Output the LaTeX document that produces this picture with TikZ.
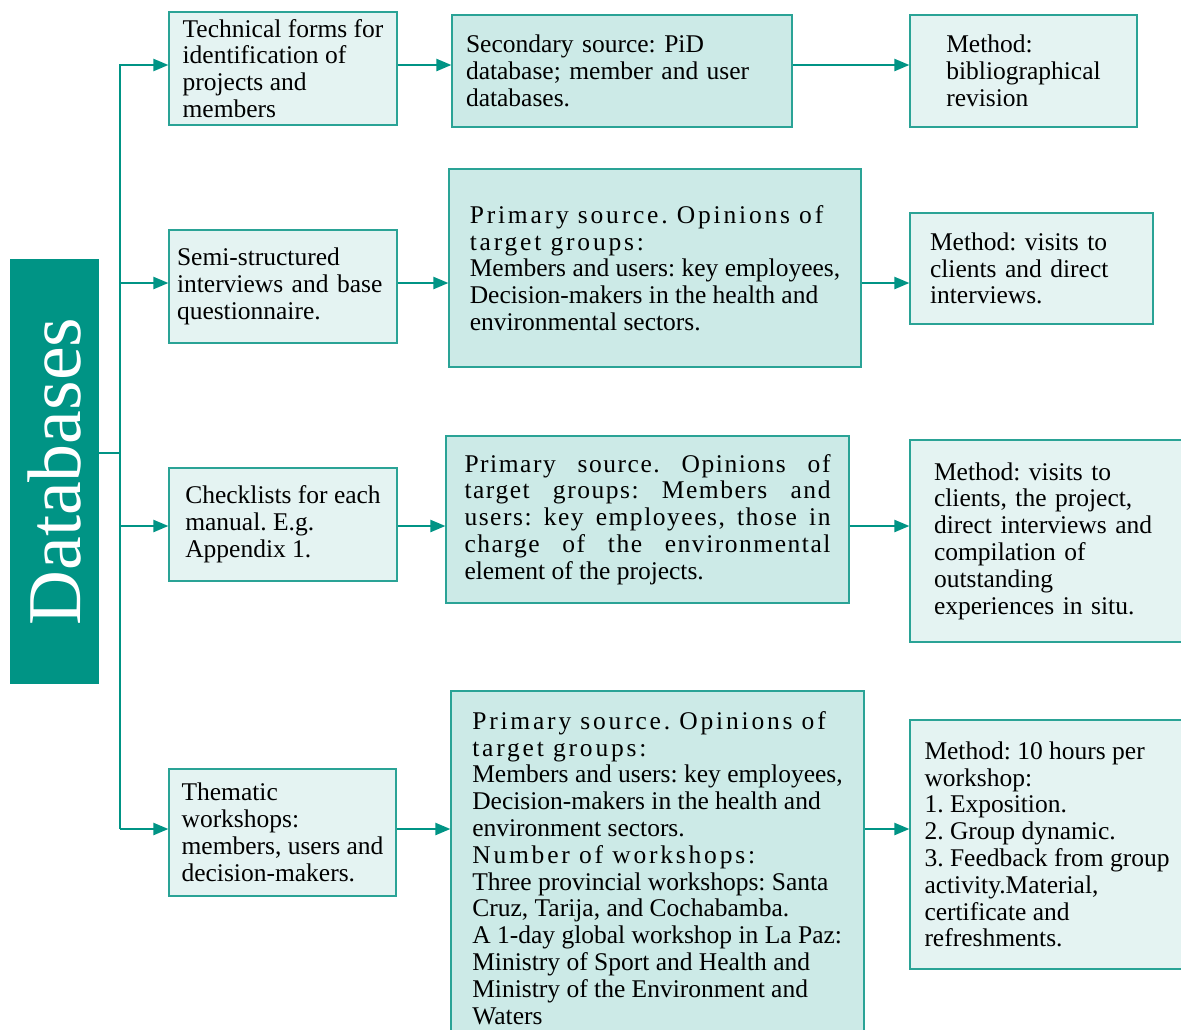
\documentclass[tikz,border=0pt]{standalone}
\usepackage{fontspec}
\setmainfont{Liberation Serif}
\usepackage{tikz}
\usetikzlibrary{arrows.meta, positioning}
\definecolor{tealdark}{RGB}{0,148,133}
\definecolor{tealedge}{RGB}{42,163,150}
\definecolor{palefill}{RGB}{228,243,242}
\definecolor{midfill}{RGB}{204,234,231}
\newcommand{\spaced}[1]{{\addfontfeature{LetterSpace=11}#1}}
\newcommand{\fullline}[1]{\makebox[366pt][s]{\addfontfeature{LetterSpace=6}#1}}
\frenchspacing

\begin{document}
\begin{tikzpicture}[
    x=1pt, y=-1pt,
    box/.style={draw=tealedge, line width=1.2pt, rectangle, align=left, inner sep=4pt, font=\fontsize{25.5}{26.8}\selectfont},
    tool/.style={box, fill=palefill},
    src/.style={box, fill=midfill},
    meth/.style={box, fill=palefill},
    arr/.style={-{Triangle[length=15pt, width=12pt]}, line width=2.2pt, draw=tealdark},
    trunk/.style={line width=2.2pt, draw=tealdark}
]
\useasboundingbox (0,0) rectangle (1181,1029);

\node[rotate=90, fill=tealdark, text=white, minimum width=425pt, minimum height=89pt, font=\fontsize{76}{78}\selectfont] (db) at (54.5,471.5) {Databases};

% first column: instruments
\node[tool, minimum width=228pt, minimum height=113pt] (tool1) at (283,68.5)
    {Technical forms for\\ identification of\\ projects and\\ members};
\node[tool, minimum width=228pt, minimum height=113pt, inner xsep=8pt, text width=212pt] (tool2) at (283,286.5)
    {Semi-structured\\ interviews and base\\ questionnaire.};
\node[tool, minimum width=228pt, minimum height=113pt] (tool3) at (283,524.5)
    {Checklists for each\\ manual. E.g.\\ Appendix 1.};
\node[tool, minimum width=227pt, minimum height=127pt] (tool4) at (282.5,832.5)
    {Thematic\\ workshops:\\ members, users and\\ decision-makers.};

% second column: sources
\node[src, minimum width=340pt, minimum height=112pt, inner xsep=14pt, text width=312pt] (src1) at (622,71)
    {Secondary source: PiD\\ database; member and user\\ databases.};
\node[src, minimum width=412pt, minimum height=198pt] (src2) at (655,268)
    {\spaced{Primary source. Opinions of}\\ \spaced{target groups:}\\ Members and users: key employees,\\ Decision-makers in the health and\\ environmental sectors.};
\node[src, minimum width=403pt, minimum height=167pt] (src3) at (647.5,519.5)
    {\fullline{Primary source. Opinions of}\\ \fullline{target groups: Members and}\\ \fullline{users: key employees, those in}\\ \fullline{charge of the environmental}\\ element of the projects.};
\node[src, minimum width=413pt, minimum height=354pt] (src4) at (657.5,868)
    {\spaced{Primary source. Opinions of}\\ \spaced{target groups:}\\ Members and users: key employees,\\ Decision-makers in the health and\\ environment sectors.\\ \spaced{Number of workshops:}\\ Three provincial workshops: Santa\\ Cruz, Tarija, and Cochabamba.\\ A 1-day global workshop in La Paz:\\ Ministry of Sport and Health and\\ Ministry of the Environment and\\ Waters};

% third column: methods
\node[meth, minimum width=227pt, minimum height=112pt] (meth1) at (1023.5,71)
    {Method:\\ bibliographical\\ revision};
\node[meth, minimum width=243pt, minimum height=111pt, inner xsep=20pt, text width=203pt] (meth2) at (1031.5,268.5)
    {Method: visits to\\ clients and direct\\ interviews.};
\node[meth, minimum width=274pt, minimum height=202pt, inner xsep=24pt, text width=226pt] (meth3) at (1047,541)
    {Method: visits to\\ clients, the project,\\ direct interviews and\\ compilation of\\ outstanding\\ experiences in situ.};
\node[meth, minimum width=274pt, minimum height=249pt] (meth4) at (1047,844.5)
    {Method: 10 hours per\\ workshop:\\ 1. Exposition.\\ 2. Group dynamic.\\ 3. Feedback from group\\ activity.Material,\\ certificate and\\ refreshments.};

% branching
\coordinate (jn) at (120,453);
\coordinate (r1) at (120,65);
\coordinate (r2) at (120,283);
\coordinate (r3) at (120,526);
\coordinate (r4) at (120,829);

\draw[trunk] (db.south |- jn) -- (jn);
\draw[arr] (r4) -- (r1) -- (r1 -| tool1.west);
\draw[arr] (r2) -- (r2 -| tool2.west);
\draw[arr] (r3) -- (r3 -| tool3.west);
\draw[arr] (r4) -- (r4 -| tool4.west);

\draw[arr] (r1 -| tool1.east) -- (r1 -| src1.west);
\draw[arr] (r2 -| tool2.east) -- (r2 -| src2.west);
\draw[arr] (r3 -| tool3.east) -- (r3 -| src3.west);
\draw[arr] (r4 -| tool4.east) -- (r4 -| src4.west);

\draw[arr] (r1 -| src1.east) -- (r1 -| meth1.west);
\draw[arr] (r2 -| src2.east) -- (r2 -| meth2.west);
\draw[arr] (r3 -| src3.east) -- (r3 -| meth3.west);
\draw[arr] (r4 -| src4.east) -- (r4 -| meth4.west);
\end{tikzpicture}
\end{document}
